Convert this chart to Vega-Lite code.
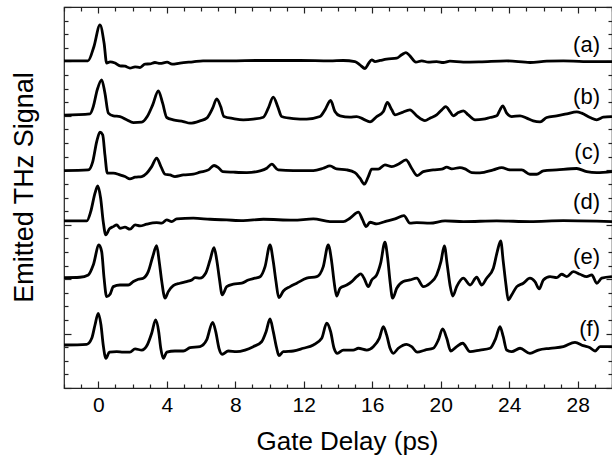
{
  "$schema": "https://vega.github.io/schema/vega-lite/v6.json",
  "width": 548,
  "height": 381,
  "autosize": "none",
  "padding": {"left": 64, "top": 7, "right": 0, "bottom": 74},
  "background": "white",
  "config": {
    "view": {"stroke": "#222", "strokeWidth": 1.2},
    "font": "Liberation Sans",
    "axis": {"domain": false, "grid": false, "tickColor": "#222", "tickWidth": 1.2, "labelFont": "Liberation Sans", "titleFont": "Liberation Sans", "labelColor": "black", "titleColor": "black", "titleFontWeight": "normal"}
  },
  "layer": [
    {
      "data": {"values": [
        {"trace":"a","t":-2.0,"s":24.04},{"trace":"a","t":-0.60,"s":24.04},{"trace":"a","t":-0.25,"s":25.10},{"trace":"a","t":0.10,"s":26.69},{"trace":"a","t":0.34,"s":25.35},{"trace":"a","t":0.49,"s":23.88},{"trace":"a","t":0.69,"s":23.97},{"trace":"a","t":0.98,"s":23.88},{"trace":"a","t":1.27,"s":23.68},{"trace":"a","t":1.56,"s":23.65},{"trace":"a","t":1.85,"s":23.51},{"trace":"a","t":2.15,"s":23.60},{"trace":"a","t":2.44,"s":23.55},{"trace":"a","t":2.73,"s":23.80},{"trace":"a","t":3.02,"s":23.82},{"trace":"a","t":3.31,"s":23.92},{"trace":"a","t":3.61,"s":23.85},{"trace":"a","t":4.02,"s":23.95},{"trace":"a","t":4.31,"s":23.80},{"trace":"a","t":4.77,"s":23.88},{"trace":"a","t":5.53,"s":23.97},{"trace":"a","t":6.12,"s":24.04},{"trace":"a","t":7.69,"s":24.04},{"trace":"a","t":9.45,"s":24.07},{"trace":"a","t":11.78,"s":24.07},{"trace":"a","t":13.53,"s":24.04},{"trace":"a","t":14.31,"s":24.07},{"trace":"a","t":14.99,"s":23.99},{"trace":"a","t":15.28,"s":23.75},{"trace":"a","t":15.58,"s":23.48},{"trace":"a","t":15.77,"s":23.82},{"trace":"a","t":15.97,"s":24.12},{"trace":"a","t":16.16,"s":23.99},{"trace":"a","t":16.46,"s":24.07},{"trace":"a","t":16.84,"s":24.17},{"trace":"a","t":17.43,"s":24.24},{"trace":"a","t":17.72,"s":24.49},{"trace":"a","t":17.97,"s":24.65},{"trace":"a","t":18.20,"s":24.41},{"trace":"a","t":18.55,"s":23.95},{"trace":"a","t":18.89,"s":24.04},{"trace":"a","t":19.27,"s":23.95},{"trace":"a","t":19.76,"s":23.99},{"trace":"a","t":20.15,"s":23.92},{"trace":"a","t":20.54,"s":24.02},{"trace":"a","t":21.32,"s":23.95},{"trace":"a","t":22.29,"s":23.97},{"trace":"a","t":23.85,"s":24.04},{"trace":"a","t":25.21,"s":23.92},{"trace":"a","t":26.19,"s":24.02},{"trace":"a","t":27.16,"s":24.04},{"trace":"a","t":28.32,"s":23.99},{"trace":"a","t":30.0,"s":23.99},

        {"trace":"b","t":-2.0,"s":20.05},{"trace":"b","t":-0.48,"s":20.15},{"trace":"b","t":-0.29,"s":20.68},{"trace":"b","t":-0.06,"s":21.91},{"trace":"b","t":0.20,"s":22.65},{"trace":"b","t":0.39,"s":21.67},{"trace":"b","t":0.59,"s":20.20},{"trace":"b","t":0.88,"s":20.0},{"trace":"b","t":1.27,"s":19.95},{"trace":"b","t":1.66,"s":19.71},{"trace":"b","t":2.05,"s":19.51},{"trace":"b","t":2.54,"s":19.54},{"trace":"b","t":2.86,"s":19.95},{"trace":"b","t":3.18,"s":20.81},{"trace":"b","t":3.51,"s":21.84},{"trace":"b","t":3.76,"s":20.93},{"trace":"b","t":4.00,"s":19.88},{"trace":"b","t":4.38,"s":19.71},{"trace":"b","t":4.97,"s":19.58},{"trace":"b","t":5.36,"s":19.46},{"trace":"b","t":5.94,"s":19.63},{"trace":"b","t":6.33,"s":19.83},{"trace":"b","t":6.68,"s":20.57},{"trace":"b","t":6.92,"s":21.25},{"trace":"b","t":7.15,"s":20.68},{"trace":"b","t":7.34,"s":19.95},{"trace":"b","t":7.89,"s":19.80},{"trace":"b","t":8.47,"s":19.71},{"trace":"b","t":9.05,"s":19.76},{"trace":"b","t":9.64,"s":19.90},{"trace":"b","t":9.93,"s":20.57},{"trace":"b","t":10.22,"s":21.38},{"trace":"b","t":10.48,"s":20.68},{"trace":"b","t":10.71,"s":19.95},{"trace":"b","t":11.39,"s":19.80},{"trace":"b","t":12.17,"s":19.76},{"trace":"b","t":12.95,"s":19.95},{"trace":"b","t":13.24,"s":20.44},{"trace":"b","t":13.57,"s":21.13},{"trace":"b","t":13.82,"s":20.32},{"trace":"b","t":14.12,"s":20.0},{"trace":"b","t":14.70,"s":19.90},{"trace":"b","t":15.09,"s":19.95},{"trace":"b","t":15.48,"s":19.76},{"trace":"b","t":15.87,"s":19.56},{"trace":"b","t":16.26,"s":19.95},{"trace":"b","t":16.65,"s":20.32},{"trace":"b","t":16.88,"s":20.98},{"trace":"b","t":17.14,"s":20.44},{"trace":"b","t":17.33,"s":20.07},{"trace":"b","t":17.72,"s":20.24},{"trace":"b","t":18.20,"s":20.44},{"trace":"b","t":18.60,"s":20.0},{"trace":"b","t":19.08,"s":19.65},{"trace":"b","t":19.37,"s":19.83},{"trace":"b","t":19.76,"s":20.07},{"trace":"b","t":20.06,"s":20.44},{"trace":"b","t":20.29,"s":20.68},{"trace":"b","t":20.54,"s":20.32},{"trace":"b","t":20.73,"s":20.0},{"trace":"b","t":21.02,"s":20.24},{"trace":"b","t":21.32,"s":20.37},{"trace":"b","t":21.61,"s":20.07},{"trace":"b","t":22.00,"s":19.71},{"trace":"b","t":22.48,"s":19.76},{"trace":"b","t":22.88,"s":19.88},{"trace":"b","t":23.27,"s":20.0},{"trace":"b","t":23.46,"s":20.44},{"trace":"b","t":23.62,"s":20.74},{"trace":"b","t":23.85,"s":20.20},{"trace":"b","t":24.14,"s":19.95},{"trace":"b","t":24.63,"s":20.0},{"trace":"b","t":25.02,"s":19.83},{"trace":"b","t":25.40,"s":19.63},{"trace":"b","t":25.80,"s":19.56},{"trace":"b","t":26.19,"s":19.88},{"trace":"b","t":26.77,"s":20.0},{"trace":"b","t":27.36,"s":20.15},{"trace":"b","t":27.94,"s":20.29},{"trace":"b","t":28.23,"s":20.20},{"trace":"b","t":28.72,"s":19.88},{"trace":"b","t":29.11,"s":19.71},{"trace":"b","t":29.49,"s":19.90},{"trace":"b","t":30.0,"s":19.95},

        {"trace":"c","t":-2.0,"s":15.98},{"trace":"c","t":-0.58,"s":16.03},{"trace":"c","t":-0.32,"s":16.64},{"trace":"c","t":-0.09,"s":18.11},{"trace":"c","t":0.10,"s":18.80},{"trace":"c","t":0.26,"s":18.60},{"trace":"c","t":0.39,"s":17.13},{"trace":"c","t":0.53,"s":15.79},{"trace":"c","t":0.88,"s":15.79},{"trace":"c","t":1.27,"s":15.66},{"trace":"c","t":1.56,"s":15.54},{"trace":"c","t":1.85,"s":15.37},{"trace":"c","t":2.15,"s":15.49},{"trace":"c","t":2.54,"s":15.54},{"trace":"c","t":2.83,"s":15.79},{"trace":"c","t":3.12,"s":16.27},{"trace":"c","t":3.41,"s":16.89},{"trace":"c","t":3.66,"s":16.27},{"trace":"c","t":3.90,"s":15.71},{"trace":"c","t":4.19,"s":15.66},{"trace":"c","t":4.48,"s":15.54},{"trace":"c","t":4.97,"s":15.66},{"trace":"c","t":5.55,"s":15.71},{"trace":"c","t":5.94,"s":15.86},{"trace":"c","t":6.43,"s":16.03},{"trace":"c","t":6.76,"s":16.35},{"trace":"c","t":7.01,"s":16.20},{"trace":"c","t":7.27,"s":15.90},{"trace":"c","t":7.89,"s":15.86},{"trace":"c","t":8.67,"s":15.83},{"trace":"c","t":9.45,"s":15.96},{"trace":"c","t":9.84,"s":16.15},{"trace":"c","t":10.13,"s":16.45},{"trace":"c","t":10.51,"s":16.03},{"trace":"c","t":11.39,"s":15.98},{"trace":"c","t":12.56,"s":15.98},{"trace":"c","t":13.14,"s":16.15},{"trace":"c","t":13.53,"s":16.32},{"trace":"c","t":13.92,"s":16.10},{"trace":"c","t":14.51,"s":16.03},{"trace":"c","t":14.99,"s":15.83},{"trace":"c","t":15.28,"s":15.42},{"trace":"c","t":15.54,"s":14.98},{"trace":"c","t":15.77,"s":15.54},{"trace":"c","t":15.97,"s":16.08},{"trace":"c","t":16.35,"s":16.08},{"trace":"c","t":16.74,"s":16.40},{"trace":"c","t":17.14,"s":16.27},{"trace":"c","t":17.52,"s":16.45},{"trace":"c","t":17.97,"s":16.76},{"trace":"c","t":18.30,"s":16.15},{"trace":"c","t":18.63,"s":15.61},{"trace":"c","t":18.98,"s":15.90},{"trace":"c","t":19.56,"s":16.03},{"trace":"c","t":20.06,"s":16.08},{"trace":"c","t":20.35,"s":16.23},{"trace":"c","t":20.64,"s":16.10},{"trace":"c","t":21.12,"s":16.20},{"trace":"c","t":21.42,"s":16.10},{"trace":"c","t":21.81,"s":15.83},{"trace":"c","t":22.29,"s":15.81},{"trace":"c","t":23.07,"s":16.03},{"trace":"c","t":23.56,"s":16.20},{"trace":"c","t":24.04,"s":16.03},{"trace":"c","t":24.73,"s":16.03},{"trace":"c","t":25.21,"s":15.71},{"trace":"c","t":25.60,"s":15.71},{"trace":"c","t":25.99,"s":15.96},{"trace":"c","t":26.77,"s":16.03},{"trace":"c","t":27.94,"s":16.13},{"trace":"c","t":28.52,"s":15.90},{"trace":"c","t":29.11,"s":15.83},{"trace":"c","t":30.0,"s":15.90},

        {"trace":"d","t":-2.0,"s":12.28},{"trace":"d","t":-0.67,"s":12.28},{"trace":"d","t":-0.44,"s":12.96},{"trace":"d","t":-0.19,"s":14.32},{"trace":"d","t":-0.03,"s":14.85},{"trace":"d","t":0.14,"s":13.95},{"trace":"d","t":0.29,"s":12.23},{"trace":"d","t":0.44,"s":11.25},{"trace":"d","t":0.65,"s":11.69},{"trace":"d","t":0.88,"s":11.86},{"trace":"d","t":1.08,"s":11.99},{"trace":"d","t":1.27,"s":11.74},{"trace":"d","t":1.56,"s":11.82},{"trace":"d","t":1.85,"s":11.67},{"trace":"d","t":2.15,"s":11.99},{"trace":"d","t":2.44,"s":11.91},{"trace":"d","t":2.83,"s":12.04},{"trace":"d","t":3.41,"s":12.15},{"trace":"d","t":3.71,"s":12.11},{"trace":"d","t":4.00,"s":12.35},{"trace":"d","t":4.29,"s":12.23},{"trace":"d","t":4.58,"s":12.43},{"trace":"d","t":5.55,"s":12.48},{"trace":"d","t":6.53,"s":12.40},{"trace":"d","t":7.50,"s":12.35},{"trace":"d","t":8.47,"s":12.30},{"trace":"d","t":9.64,"s":12.40},{"trace":"d","t":11.39,"s":12.33},{"trace":"d","t":12.56,"s":12.43},{"trace":"d","t":13.53,"s":12.23},{"trace":"d","t":14.31,"s":12.23},{"trace":"d","t":14.70,"s":12.48},{"trace":"d","t":15.19,"s":12.92},{"trace":"d","t":15.44,"s":12.35},{"trace":"d","t":15.64,"s":11.86},{"trace":"d","t":15.87,"s":12.18},{"trace":"d","t":16.26,"s":12.06},{"trace":"d","t":16.74,"s":12.23},{"trace":"d","t":17.33,"s":12.43},{"trace":"d","t":17.85,"s":12.67},{"trace":"d","t":18.20,"s":12.11},{"trace":"d","t":18.60,"s":12.15},{"trace":"d","t":19.37,"s":12.11},{"trace":"d","t":20.25,"s":12.28},{"trace":"d","t":21.32,"s":12.23},{"trace":"d","t":23.27,"s":12.28},{"trace":"d","t":25.21,"s":12.23},{"trace":"d","t":27.16,"s":12.30},{"trace":"d","t":30.0,"s":12.23},

        {"trace":"e","t":-2.0,"s":8.11},{"trace":"e","t":-1.07,"s":8.14},{"trace":"e","t":-0.58,"s":8.31},{"trace":"e","t":-0.29,"s":9.04},{"trace":"e","t":0.04,"s":10.51},{"trace":"e","t":0.20,"s":10.02},{"trace":"e","t":0.34,"s":8.07},{"trace":"e","t":0.49,"s":6.71},{"trace":"e","t":0.69,"s":6.89},{"trace":"e","t":0.88,"s":7.45},{"trace":"e","t":1.27,"s":7.57},{"trace":"e","t":1.75,"s":7.57},{"trace":"e","t":2.05,"s":7.82},{"trace":"e","t":2.34,"s":7.99},{"trace":"e","t":2.63,"s":8.07},{"trace":"e","t":2.92,"s":8.55},{"trace":"e","t":3.18,"s":9.65},{"trace":"e","t":3.41,"s":10.46},{"trace":"e","t":3.56,"s":9.29},{"trace":"e","t":3.71,"s":7.82},{"trace":"e","t":3.90,"s":6.60},{"trace":"e","t":4.09,"s":7.08},{"trace":"e","t":4.38,"s":7.52},{"trace":"e","t":4.77,"s":7.70},{"trace":"e","t":5.16,"s":7.82},{"trace":"e","t":5.46,"s":7.94},{"trace":"e","t":5.65,"s":8.11},{"trace":"e","t":5.94,"s":8.07},{"trace":"e","t":6.27,"s":8.43},{"trace":"e","t":6.53,"s":9.41},{"trace":"e","t":6.76,"s":10.32},{"trace":"e","t":6.92,"s":9.41},{"trace":"e","t":7.07,"s":8.07},{"trace":"e","t":7.24,"s":6.84},{"trace":"e","t":7.50,"s":7.45},{"trace":"e","t":7.89,"s":7.63},{"trace":"e","t":8.38,"s":7.70},{"trace":"e","t":8.76,"s":7.94},{"trace":"e","t":9.15,"s":8.07},{"trace":"e","t":9.45,"s":8.18},{"trace":"e","t":9.74,"s":8.92},{"trace":"e","t":10.03,"s":10.51},{"trace":"e","t":10.22,"s":9.29},{"trace":"e","t":10.38,"s":7.82},{"trace":"e","t":10.54,"s":6.64},{"trace":"e","t":10.81,"s":7.13},{"trace":"e","t":11.20,"s":7.45},{"trace":"e","t":11.59,"s":7.70},{"trace":"e","t":12.17,"s":8.07},{"trace":"e","t":12.76,"s":8.18},{"trace":"e","t":13.14,"s":8.92},{"trace":"e","t":13.43,"s":10.51},{"trace":"e","t":13.63,"s":9.29},{"trace":"e","t":13.77,"s":7.82},{"trace":"e","t":13.92,"s":6.76},{"trace":"e","t":14.12,"s":7.33},{"trace":"e","t":14.51,"s":7.57},{"trace":"e","t":14.80,"s":7.82},{"trace":"e","t":15.09,"s":8.18},{"trace":"e","t":15.33,"s":8.38},{"trace":"e","t":15.52,"s":8.07},{"trace":"e","t":15.77,"s":7.45},{"trace":"e","t":15.97,"s":7.94},{"trace":"e","t":16.26,"s":8.31},{"trace":"e","t":16.49,"s":9.17},{"trace":"e","t":16.74,"s":10.71},{"trace":"e","t":16.90,"s":9.54},{"trace":"e","t":17.04,"s":7.82},{"trace":"e","t":17.19,"s":6.60},{"trace":"e","t":17.43,"s":7.33},{"trace":"e","t":17.81,"s":7.82},{"trace":"e","t":18.20,"s":7.94},{"trace":"e","t":18.60,"s":8.07},{"trace":"e","t":18.98,"s":7.45},{"trace":"e","t":19.37,"s":7.70},{"trace":"e","t":19.76,"s":8.31},{"trace":"e","t":20.01,"s":9.29},{"trace":"e","t":20.21,"s":10.44},{"trace":"e","t":20.38,"s":9.04},{"trace":"e","t":20.54,"s":7.57},{"trace":"e","t":20.70,"s":6.76},{"trace":"e","t":20.93,"s":7.45},{"trace":"e","t":21.32,"s":8.07},{"trace":"e","t":21.71,"s":7.57},{"trace":"e","t":22.10,"s":8.14},{"trace":"e","t":22.39,"s":7.57},{"trace":"e","t":22.68,"s":8.07},{"trace":"e","t":23.07,"s":8.80},{"trace":"e","t":23.30,"s":10.02},{"trace":"e","t":23.50,"s":10.81},{"trace":"e","t":23.65,"s":9.29},{"trace":"e","t":23.81,"s":7.57},{"trace":"e","t":23.94,"s":6.47},{"trace":"e","t":24.14,"s":6.84},{"trace":"e","t":24.44,"s":7.45},{"trace":"e","t":24.82,"s":7.70},{"trace":"e","t":25.21,"s":8.07},{"trace":"e","t":25.50,"s":7.82},{"trace":"e","t":25.75,"s":7.28},{"trace":"e","t":25.99,"s":7.94},{"trace":"e","t":26.38,"s":8.18},{"trace":"e","t":26.77,"s":8.11},{"trace":"e","t":27.06,"s":8.36},{"trace":"e","t":27.36,"s":8.18},{"trace":"e","t":27.74,"s":8.55},{"trace":"e","t":28.13,"s":8.36},{"trace":"e","t":28.52,"s":8.18},{"trace":"e","t":28.82,"s":8.31},{"trace":"e","t":29.11,"s":7.70},{"trace":"e","t":29.40,"s":8.07},{"trace":"e","t":30.0,"s":8.18},

        {"trace":"f","t":-2.0,"s":3.16},{"trace":"f","t":-0.67,"s":3.21},{"trace":"f","t":-0.38,"s":3.65},{"trace":"f","t":-0.19,"s":4.63},{"trace":"f","t":0.00,"s":5.49},{"trace":"f","t":0.16,"s":4.63},{"trace":"f","t":0.29,"s":3.16},{"trace":"f","t":0.45,"s":2.18},{"trace":"f","t":0.65,"s":2.63},{"trace":"f","t":1.08,"s":2.67},{"trace":"f","t":1.46,"s":2.63},{"trace":"f","t":1.85,"s":2.63},{"trace":"f","t":2.15,"s":2.87},{"trace":"f","t":2.54,"s":2.79},{"trace":"f","t":2.86,"s":3.16},{"trace":"f","t":3.12,"s":4.02},{"trace":"f","t":3.35,"s":5.00},{"trace":"f","t":3.53,"s":4.14},{"trace":"f","t":3.65,"s":2.92},{"trace":"f","t":3.80,"s":2.18},{"trace":"f","t":4.00,"s":2.63},{"trace":"f","t":4.48,"s":2.72},{"trace":"f","t":4.97,"s":2.72},{"trace":"f","t":5.36,"s":2.96},{"trace":"f","t":5.94,"s":3.04},{"trace":"f","t":6.33,"s":3.53},{"trace":"f","t":6.68,"s":4.83},{"trace":"f","t":6.86,"s":4.14},{"trace":"f","t":7.05,"s":2.92},{"trace":"f","t":7.24,"s":2.48},{"trace":"f","t":7.59,"s":2.72},{"trace":"f","t":8.08,"s":2.67},{"trace":"f","t":8.57,"s":2.79},{"trace":"f","t":9.05,"s":3.04},{"trace":"f","t":9.54,"s":3.40},{"trace":"f","t":9.80,"s":4.14},{"trace":"f","t":10.03,"s":5.07},{"trace":"f","t":10.22,"s":4.14},{"trace":"f","t":10.42,"s":2.92},{"trace":"f","t":10.55,"s":2.38},{"trace":"f","t":10.81,"s":2.67},{"trace":"f","t":11.39,"s":2.72},{"trace":"f","t":11.97,"s":2.92},{"trace":"f","t":12.56,"s":3.16},{"trace":"f","t":13.05,"s":3.65},{"trace":"f","t":13.34,"s":4.76},{"trace":"f","t":13.57,"s":4.14},{"trace":"f","t":13.77,"s":2.92},{"trace":"f","t":13.96,"s":2.55},{"trace":"f","t":14.31,"s":2.79},{"trace":"f","t":14.89,"s":2.79},{"trace":"f","t":15.19,"s":2.92},{"trace":"f","t":15.68,"s":2.79},{"trace":"f","t":16.06,"s":3.04},{"trace":"f","t":16.41,"s":3.65},{"trace":"f","t":16.65,"s":4.51},{"trace":"f","t":16.84,"s":3.90},{"trace":"f","t":17.04,"s":2.92},{"trace":"f","t":17.23,"s":2.55},{"trace":"f","t":17.52,"s":2.92},{"trace":"f","t":18.01,"s":3.21},{"trace":"f","t":18.30,"s":3.04},{"trace":"f","t":18.63,"s":2.63},{"trace":"f","t":19.08,"s":2.79},{"trace":"f","t":19.56,"s":2.92},{"trace":"f","t":19.86,"s":3.53},{"trace":"f","t":20.11,"s":4.34},{"trace":"f","t":20.35,"s":3.65},{"trace":"f","t":20.58,"s":2.72},{"trace":"f","t":20.93,"s":3.04},{"trace":"f","t":21.28,"s":3.29},{"trace":"f","t":21.71,"s":2.67},{"trace":"f","t":22.29,"s":2.79},{"trace":"f","t":22.88,"s":2.92},{"trace":"f","t":23.21,"s":3.65},{"trace":"f","t":23.46,"s":4.51},{"trace":"f","t":23.65,"s":3.77},{"trace":"f","t":23.85,"s":2.79},{"trace":"f","t":24.14,"s":2.67},{"trace":"f","t":24.63,"s":2.92},{"trace":"f","t":25.21,"s":2.55},{"trace":"f","t":25.70,"s":2.79},{"trace":"f","t":26.38,"s":2.92},{"trace":"f","t":27.16,"s":3.04},{"trace":"f","t":27.84,"s":3.36},{"trace":"f","t":28.32,"s":3.11},{"trace":"f","t":28.72,"s":2.96},{"trace":"f","t":29.01,"s":2.72},{"trace":"f","t":29.30,"s":3.04},{"trace":"f","t":30.0,"s":3.04}
      ]},
      "mark": {"type": "line", "color": "black", "strokeWidth": 2.8, "strokeJoin": "round", "interpolate": "monotone", "clip": true},
      "encoding": {
        "x": {"field": "t", "type": "quantitative", "scale": {"domain": [-2, 30], "nice": false, "zero": false},
          "axis": {"orient": "bottom", "title": "Gate Delay (ps)", "titleFontSize": 26, "titleX": 283, "titleY": 61, "titleBaseline": "alphabetic", "titleAlign": "center",
            "values": [-2,-1,0,1,2,3,4,5,6,7,8,9,10,11,12,13,14,15,16,17,18,19,20,21,22,23,24,25,26,27,28,29,30],
            "labelExpr": "datum.value % 4 === 0 ? datum.label : ''", "labelOverlap": false, "labelFlush": false, "labelFontSize": 21, "labelBaseline": "alphabetic", "labelPadding": 30,
            "tickSize": {"condition": {"test": "datum.value % 4 === 0", "value": -7}, "value": -4}}},
        "y": {"field": "s", "type": "quantitative", "scale": {"domain": [0, 28], "nice": false, "zero": false},
          "axis": {"orient": "left", "title": "Emitted THz Signal", "titleFontSize": 27, "titleX": -32, "titleY": 180, "titleBaseline": "alphabetic", "titleAlign": "center", "titleAngle": 270,
            "values": [0,1,2,3,4,5,6,7,8,9,10,11,12,13,14,15,16,17,18,19,20,21,22,23,24,25,26,27,28],
            "labels": false,
            "tickSize": {"condition": {"test": "datum.value % 4 === 0", "value": -7}, "value": -4}}},
        "detail": {"field": "trace", "type": "nominal"}
      }
    },
    {
      "data": {"values": [
        {"lab": "(a)", "t": 29.3, "s": 25.22},
        {"lab": "(b)", "t": 29.3, "s": 21.36},
        {"lab": "(c)", "t": 29.3, "s": 17.35},
        {"lab": "(d)", "t": 29.3, "s": 13.68},
        {"lab": "(e)", "t": 29.3, "s": 9.63},
        {"lab": "(f)", "t": 29.3, "s": 4.34}
      ]},
      "mark": {"type": "text", "align": "right", "baseline": "middle", "fontSize": 22, "font": "Liberation Sans", "color": "black"},
      "encoding": {
        "x": {"field": "t", "type": "quantitative",
          "axis": {"orient": "top", "title": null, "labels": false,
            "values": [-2,-1,0,1,2,3,4,5,6,7,8,9,10,11,12,13,14,15,16,17,18,19,20,21,22,23,24,25,26,27,28,29,30],
            "tickSize": {"condition": {"test": "datum.value % 4 === 0", "value": -6}, "value": -4}}},
        "y": {"field": "s", "type": "quantitative",
          "axis": {"orient": "right", "title": null, "labels": false,
            "values": [0,1,2,3,4,5,6,7,8,9,10,11,12,13,14,15,16,17,18,19,20,21,22,23,24,25,26,27,28],
            "tickSize": {"condition": {"test": "datum.value % 4 === 0", "value": -6}, "value": -4}}},
        "text": {"field": "lab", "type": "nominal"}
      }
    }
  ],
  "resolve": {"axis": {"x": "independent", "y": "independent"}}
}
